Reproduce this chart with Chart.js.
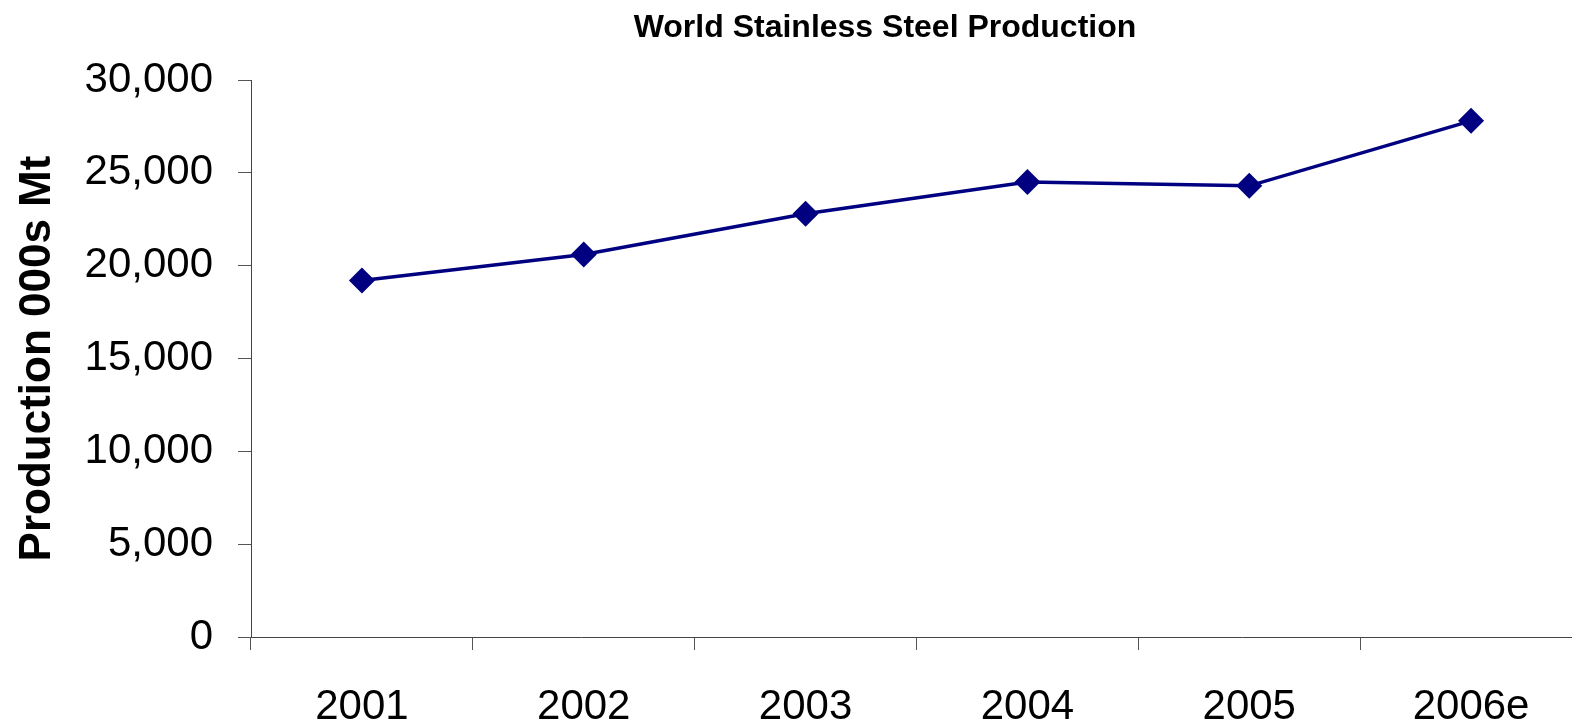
<!DOCTYPE html>
<html>
<head>
<meta charset="utf-8">
<script src="https://cdn.jsdelivr.net/npm/chart.js@4"></script>
<style>
  html, body { margin: 0; padding: 0; background: #fff; overflow: hidden; }
  canvas { display: block; }
</style>
</head>
<body>
<canvas id="steelChart" width="1572" height="721"></canvas>
<script>
// production by year, thousand tonnes
const years = ['2001', '2002', '2003', '2004', '2005', '2006e'];
const production = [19200, 20600, 22800, 24500, 24300, 27800];
const yTicks = [0, 5000, 10000, 15000, 20000, 25000, 30000];

const chartTitle = 'World Stainless Steel Production';
const axisTitle = 'Production 000s Mt';

const FONT = "'Liberation Sans', Arial, sans-serif";

// title sits over the plot, drawn by hand so it can be placed freely
const titlePlugin = {
  id: 'plotTitle',
  afterDraw(chart) {
    const ctx = chart.ctx;
    ctx.save();
    ctx.font = 'bold 32px ' + FONT;
    ctx.fillStyle = '#000';
    ctx.textAlign = 'center';
    ctx.textBaseline = 'middle';
    ctx.fillText(chartTitle, 885, 28);
    ctx.restore();
  }
};

// the last category runs a little past the right edge of the canvas
const overhang = 10;
const overhangPlugin = {
  id: 'overhang',
  afterLayout(chart) {
    const x = chart.scales.x;
    const right = chart.width + overhang;
    const extra = right - chart.chartArea.right;
    chart.chartArea.right = right;
    chart.chartArea.width += extra;
    x.right = right;
    x.width += extra;
    x.configure();
  }
};

const ctx = document.getElementById('steelChart');
new Chart(ctx, {
  type: 'line',
  data: {
    labels: years,
    datasets: [{
      data: production,
      borderColor: '#000080',
      backgroundColor: '#000080',
      borderWidth: 3.5,
      pointStyle: 'rectRot',
      pointRadius: 13,
      pointHoverRadius: 13,
      pointBorderWidth: 0,
      tension: 0,
      fill: false
    }]
  },
  options: {
    responsive: false,
    animation: false,
    layout: { padding: { top: 80, right: 0, left: 0, bottom: 0 } },
    plugins: {
      legend: { display: false },
      tooltip: { enabled: false }
    },
    scales: {
      x: {
        offset: true,
        grid: { drawOnChartArea: false, offset: true, tickLength: 13, color: '#555' },
        border: { color: '#444', width: 1 },
        ticks: { color: '#000', font: { family: FONT, size: 42 }, padding: 32, maxRotation: 0 },
        afterFit(scale) { scale.height = 84; }
      },
      y: {
        min: 0,
        max: 30000,
        afterBuildTicks(scale) { scale.ticks = yTicks.map(v => ({ value: v })); },
        grid: { drawOnChartArea: false, tickLength: 13, color: '#555' },
        border: { color: '#444', width: 1 },
        ticks: {
          color: '#000',
          font: { family: FONT, size: 42 },
          padding: 25,
          callback: v => v.toLocaleString('en-US')
        },
        title: {
          display: true,
          text: axisTitle,
          color: '#000',
          font: { family: FONT, size: 44, weight: 'bold' },
          padding: { top: 11, bottom: 0 }
        },
        afterFit(scale) { scale.width = 251; }
      }
    }
  },
  plugins: [overhangPlugin, titlePlugin]
});
</script>
</body>
</html>
